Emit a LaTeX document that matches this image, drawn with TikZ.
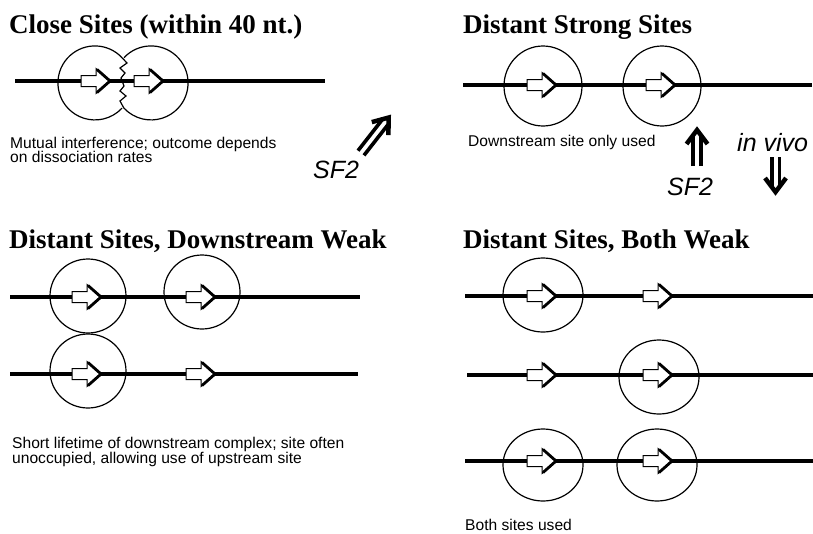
\documentclass[tikz,border=0pt]{standalone}
\usepackage{fontspec}
\setmainfont{Liberation Serif}
\setsansfont{Liberation Sans}
\tikzset{
  dna/.style={line width=4pt},
  site/.style={line width=1.2pt},
  ttl/.style={font=\fontsize{27}{27}\selectfont\bfseries, anchor=base west, inner sep=0pt},
  note/.style={font=\sffamily\fontsize{15.6}{15.6}\selectfont, anchor=base west, inner sep=0pt},
  big/.style={font=\sffamily\itshape\fontsize{25}{25}\selectfont, anchor=base west, inner sep=0pt},
}
\newcommand\sitearr[2]{%
  \begin{scope}[shift={(#1,#2)}]
    \filldraw[fill=white, line width=1pt, line join=miter]
      (-15,-5.5) -- (0,-5.5) -- (0,-12.5) -- (15,0) -- (0,12.5) -- (0,5.5) -- (-15,5.5) -- cycle;
    \draw[line width=2.8pt, line join=miter] (1,-11.5) -- (14,0) -- (1,11.5);
  \end{scope}}
\newcommand\dblarr[4]{%
  \begin{scope}[shift={(#1,#2)}, rotate=#3]
    \draw[line width=3.6pt] (0,-3.8) -- (#4-10,-3.8);
    \draw[line width=3.6pt] (0,3.8) -- (#4-10,3.8);
    \draw[line width=4.5pt, line join=miter, miter limit=10] (#4-18,-10.5) -- (#4-4,0) -- (#4-18,10.5);
  \end{scope}}
\begin{document}
\begin{tikzpicture}[x=1pt, y=-1pt]
\useasboundingbox (0,0) rectangle (813,533);

% ---- Panel 1: Close sites
\node[ttl] (t1) at (9,33) {Close Sites (within 40 nt.)};
\draw[dna] (15,81) -- (325,81);
\draw[site] (122,57.7) arc[start angle=-43, end angle=-317, radius=37];
\draw[site] (124,57.7) arc[start angle=-137, end angle=137, radius=37];
\draw[site, line join=miter] (122,57.7) -- (127,63) -- (120,68) -- (125,73) -- (121,78)
  -- (124,86) -- (120,91) -- (126,96) -- (120,101) -- (124,108.3);
\sitearr{96}{81}
\sitearr{149}{81}
\node[note] (n1a) at (10,148) {Mutual interference; outcome depends};
\node[note] (n1b) at (10,162) {on dissociation rates};
\dblarr{361}{153}{52}{49}
\node[big] (sf2a) at (313,178) {SF2};

% ---- Panel 2: Distant strong sites
\node[ttl] (t2) at (463,33) {Distant Strong Sites};
\draw[dna] (463,85) -- (812,85);
\draw[site] (543,86) ellipse[x radius=39, y radius=40];
\draw[site] (662,86) ellipse[x radius=39, y radius=40];
\sitearr{542}{85}
\sitearr{661}{85}
\node[note] (n2) at (468,146) {Downstream site only used};
\dblarr{697}{166}{90}{40}
\node[big] (sf2b) at (667,195) {SF2};
\node[big] (vivo) at (737,151) {in vivo};
\dblarr{775.5}{157}{-90}{39}

% ---- Panel 3: Distant sites, downstream weak
\node[ttl] (t3) at (9,248) {Distant Sites, Downstream Weak};
\draw[dna] (10,297) -- (360,297);
\draw[dna] (10,374) -- (358,374);
\draw[site] (88,296) ellipse[x radius=38, y radius=37];
\draw[site] (202,292) ellipse[x radius=38, y radius=37];
\draw[site] (88,371) ellipse[x radius=38, y radius=37];
\sitearr{87}{297}
\sitearr{201}{297}
\sitearr{87}{374}
\sitearr{201}{374}
\node[note] (n3a) at (12,448) {Short lifetime of downstream complex; site often};
\node[note] (n3b) at (12,463) {unoccupied, allowing use of upstream site};

% ---- Panel 4: Distant sites, both weak
\node[ttl] (t4) at (463,248) {Distant Sites, Both Weak};
\draw[dna] (465,296) -- (813,296);
\draw[dna] (467,375) -- (813,375);
\draw[dna] (465,461) -- (813,461);
\draw[site] (543,295) ellipse[x radius=40, y radius=37];
\draw[site] (659,377) ellipse[x radius=40, y radius=37];
\draw[site] (543,465) ellipse[x radius=40, y radius=36];
\draw[site] (657,465) ellipse[x radius=40, y radius=36];
\sitearr{542}{296}
\sitearr{658}{296}
\sitearr{542}{375}
\sitearr{658}{375}
\sitearr{542}{461}
\sitearr{658}{461}
\node[note] (n4) at (465,530) {Both sites used};
\end{tikzpicture}
\end{document}
